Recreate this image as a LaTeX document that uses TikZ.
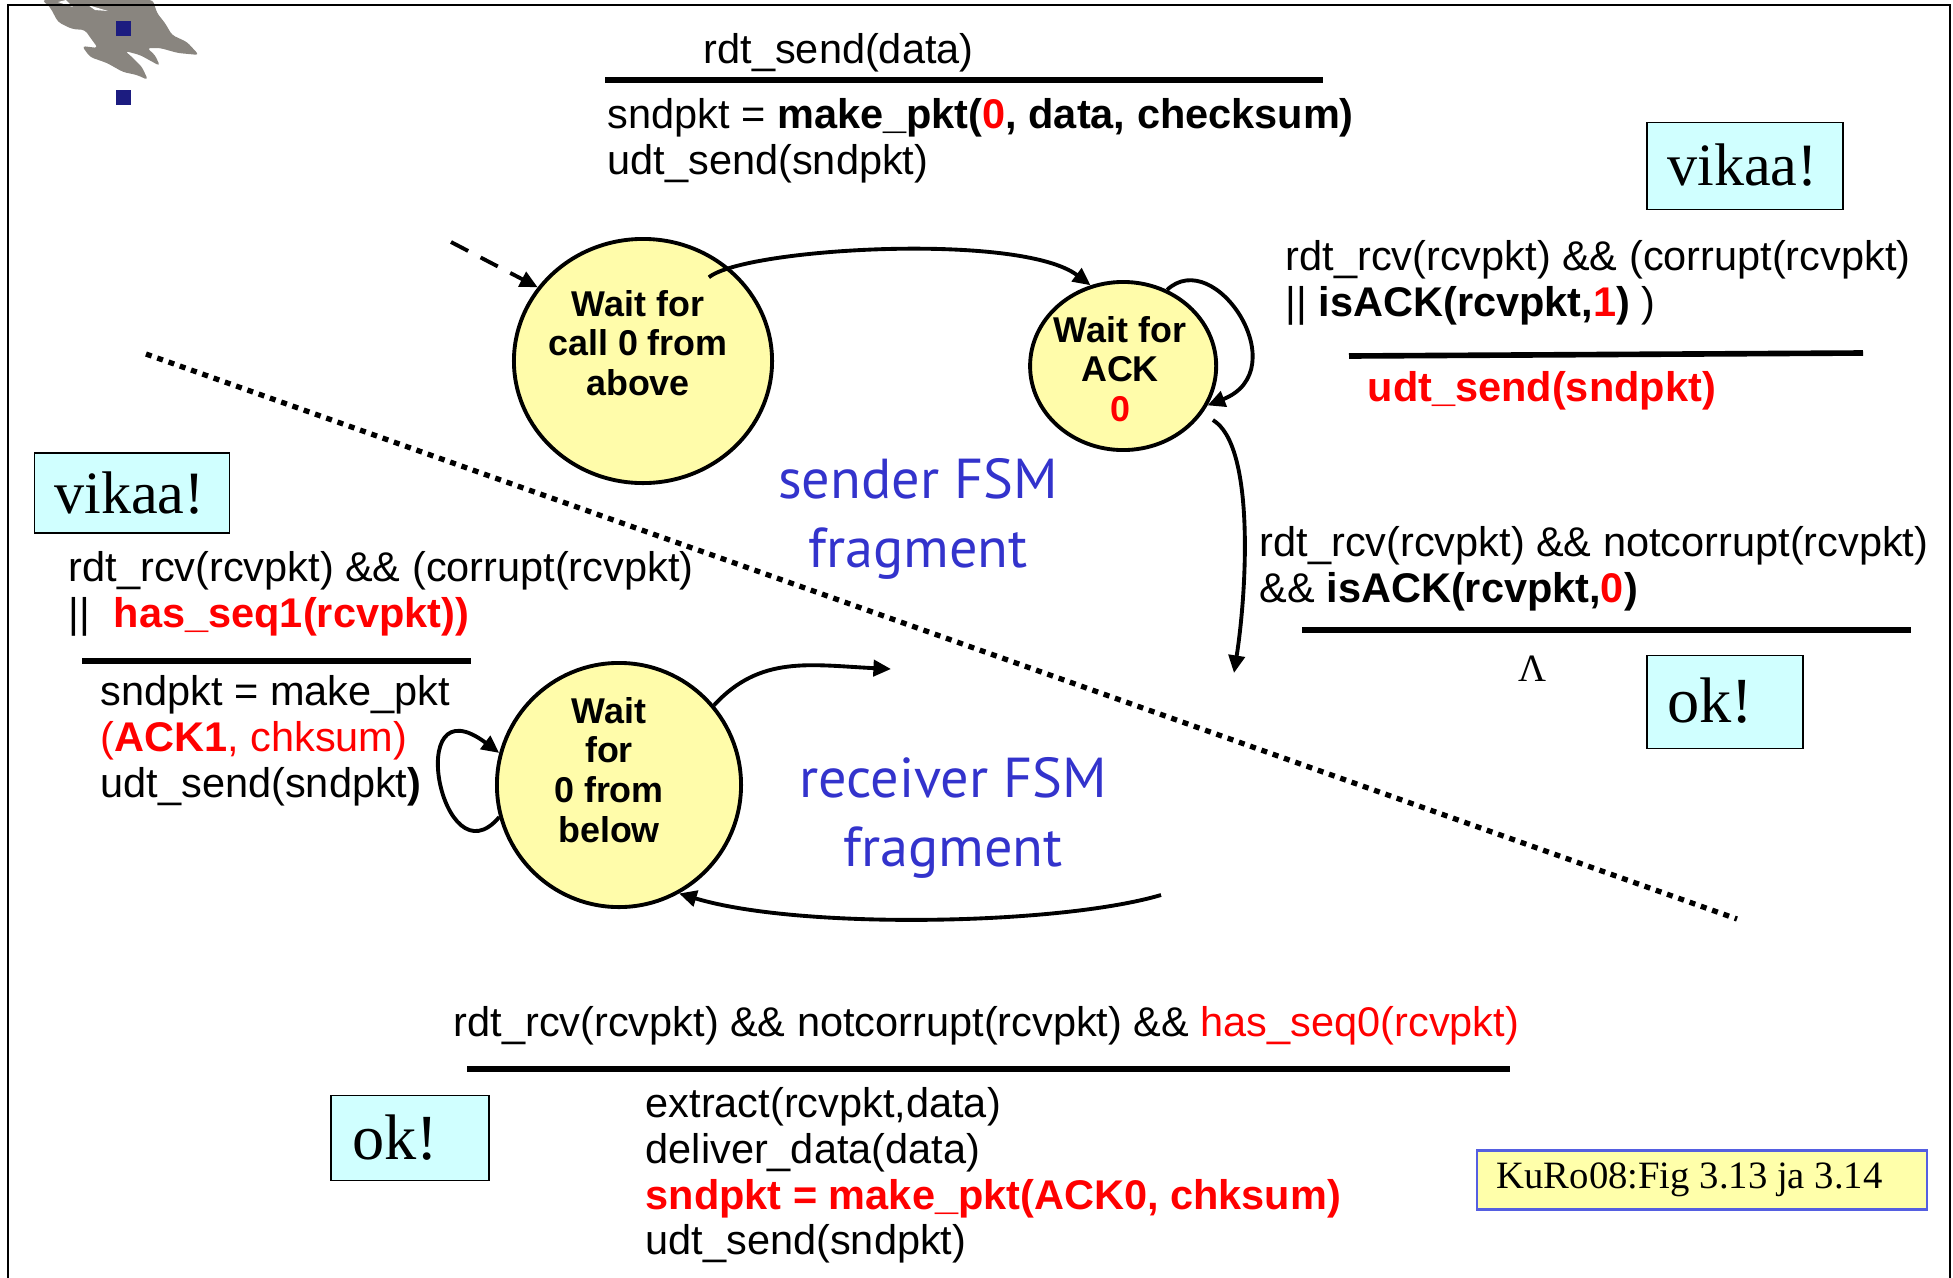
\documentclass[tikz,border=0pt]{standalone}
\usepackage{fontspec}
\setmainfont{Liberation Sans}
\newfontfamily\notefont{Liberation Serif}
\newfontfamily\fsmfont{PT Sans}
\usetikzlibrary{positioning,shapes.geometric,arrows.meta}
\definecolor{statefill}{RGB}{255,252,170}
\definecolor{notefill}{RGB}{208,255,255}
\definecolor{srcfill}{RGB}{255,255,170}
\definecolor{srcblue}{RGB}{85,95,225}
\definecolor{fsmblue}{RGB}{51,51,204}
\definecolor{logogrey}{RGB}{137,133,127}
\definecolor{bulletblue}{RGB}{28,28,128}
\tikzset{
  state/.style={ellipse, draw, line width=1.1pt, fill=statefill, inner sep=0pt},
  statetext/.style={align=center, inner sep=0pt, font=\fontsize{10.2}{11.3}\selectfont\bfseries},
  trans/.style={anchor=north west, align=left, inner sep=0pt, font=\fontsize{11.8}{13}\selectfont},
  rulebar/.style={line width=1.6pt},
  edgeline/.style={line width=1.1pt, -{Triangle[length=5pt,width=4.6pt]}},
  note/.style={draw, line width=0.5pt, fill=notefill, inner sep=0pt, font=\notefont\fontsize{17.1}{18}\selectfont},
  oknote/.style={note, font=\notefont\fontsize{18.3}{20}\selectfont},
  fsmlabel/.style={align=center, inner sep=0pt, text=fsmblue, font=\fsmfont\fontsize{16}{19.4}\selectfont},
}
\begin{document}
\begin{tikzpicture}[x=0.01cm, y=-0.01cm]
  \useasboundingbox (0,0) rectangle (1953,1278);

  % Logo and frame
  \fill[logogrey, rounded corners=1pt] (42,0) -- (50,7) -- (58,22) -- (72,29) -- (85,30) -- (92,40) -- (98,48) -- (82,46) -- (90,57) -- (107,63) -- (123,72) -- (137,75) -- (148,80) -- (142,67) -- (132,57) -- (125,51) -- (140,55) -- (160,66) -- (155,55) -- (147,48) -- (160,48) -- (178,53) -- (199,55) -- (187,42) -- (172,35) -- (165,23) -- (157,13) -- (153,0) -- cycle;
  \fill[white] (58,2) -- (73,7) -- (66,0) -- cycle;
  \fill[white] (88,5) -- (108,11) -- (95,10) -- cycle;
  \draw[line width=0.7pt] (8,1278) -- (8,5) -- (1950,5) -- (1950,1278);
  \fill[bulletblue] (116,21) rectangle (131,36);
  \fill[bulletblue] (116,90) rectangle (131,105);

  % Define nodes
  \node[state, minimum width=2.58cm, minimum height=2.44cm] (waitcall) at (643,361) {};
  \node[state, minimum width=1.86cm, minimum height=1.68cm, right=2.54cm of waitcall, yshift=-0.05cm] (waitack) {};
  \node[state, minimum width=2.44cm, minimum height=2.44cm] (waitbelow) at (619,785) {};
  \node[statetext] (waitcalltext) at (638,343) {Wait for\\call 0 from\\above};
  \node[statetext] (waitacktext) at (1120,369) {Wait for\\ACK\\\textcolor{red}{0}};
  \node[statetext] (waitbelowtext) at (609,770) {Wait\\for\\0 from\\below};

  \coordinate (initstart) at (451,242);
  \coordinate (sendend) at (1234,673);
  \coordinate (recvend) at (891,669);
  \coordinate (recvstart) at (1161,895);

  % Connect the nodes
  \draw[edgeline, dash pattern=on 5.5pt off 4pt] (initstart) -- (waitcall.145);
  \draw[edgeline] ([shift={(-12,16)}]waitcall.52) .. controls (745,248) and (1020,232) .. (waitack.112);
  \draw[edgeline] (waitack.60) .. controls (1215,245) and (1297,370) .. (waitack.-25);
  \draw[edgeline] (waitack.-22) ++(3,19) .. controls (1255,445) and (1247,590) .. (sendend);
  \draw[edgeline] (waitbelow.40) .. controls (760,655) and (810,665) .. (recvend);
  \draw[edgeline] (recvstart) .. controls (1060,925) and (800,930) .. (waitbelow.-61);
  \draw[edgeline] (waitbelow.195) .. controls (442,885) and (402,680) .. (waitbelow.165);

  % Divider
  \draw[line width=1.5pt, dash pattern=on 1.7pt off 1.7pt] (146,354) -- (1737,919);

  % Bars
  \draw[rulebar] (605,80) -- (1323,80);
  \draw[rulebar] (1349,356) -- (1863,353);
  \draw[rulebar] (1302,630) -- (1911,630);
  \draw[rulebar] (82,661) -- (471,661);
  \draw[rulebar] (467,1069) -- (1510,1069);

  % Labels
  \node[trans] (sendevent) at (703,33) {rdt\_send(data)};
  \node[trans] (sendaction) at (607,98) {sndpkt = \textbf{make\_pkt(\textcolor{red}{0}, data, checksum)}\\udt\_send(sndpkt)};
  \node[trans] (ackevent) at (1285,240) {rdt\_rcv(rcvpkt) \&\& (corrupt(rcvpkt)\\|| \textbf{isACK(rcvpkt,\textcolor{red}{1})} )};
  \node[trans, text=red, font=\fontsize{11.8}{13}\selectfont\bfseries] (ackaction) at (1367,371) {udt\_send(sndpkt)};
  \node[trans] (okevent) at (1259,526) {rdt\_rcv(rcvpkt) \&\& notcorrupt(rcvpkt)\\\&\& \textbf{isACK(rcvpkt,\textcolor{red}{0})}};
  \node[font=\notefont\fontsize{11}{13}\selectfont, inner sep=0pt] (lambda) at (1533,669) {Λ};
  \node[trans] (dupevent) at (68,551) {rdt\_rcv(rcvpkt) \&\& (corrupt(rcvpkt)\\||\hspace{0.57em}\textcolor{red}{\textbf{has\_seq1(rcvpkt))}}};
  \node[trans] (dupaction) at (100,675) {sndpkt = make\_pkt\\\textcolor{red}{(\textbf{ACK1}, chksum)}\\udt\_send(sndpkt\textbf{)}};
  \node[trans] (recvevent) at (453,1006) {rdt\_rcv(rcvpkt) \&\& notcorrupt(rcvpkt) \&\& \textcolor{red}{has\_seq0(rcvpkt)}};
  \node[trans] (recvaction) at (645,1087) {extract(rcvpkt,data)\\deliver\_data(data)\\\textcolor{red}{\textbf{sndpkt = make\_pkt(ACK0, chksum)}}\\udt\_send(sndpkt)};
  \node[fsmlabel] (senderlabel) at (918,519) {sender FSM\\fragment};
  \node[fsmlabel] (receiverlabel) at (953,818) {receiver FSM\\fragment};

  % Notes
  \node[note, minimum width=1.96cm, minimum height=0.87cm] (vikaatop) at (1745,166) {\raisebox{0.7pt}{vikaa!}\hspace{0.05cm}\mbox{}};
  \node[note, minimum width=1.95cm, minimum height=0.80cm] (vikaaleft) at (132,493) {vikaa!\hspace{0.05cm}\mbox{}};
  \node[oknote, minimum width=1.56cm, minimum height=0.93cm] (oktop) at (1725,702) {\raisebox{1pt}{ok!}\hspace{0.3cm}\mbox{}};
  \node[oknote, minimum width=1.58cm, minimum height=0.85cm] (okbottom) at (410,1138) {ok!\hspace{0.3cm}\mbox{}};
  \node[draw=srcblue, line width=0.6pt, fill=srcfill, inner sep=0pt, minimum width=4.49cm, minimum height=0.59cm, font=\notefont\fontsize{11}{13}\selectfont] (source) at (1702,1180) {\raisebox{-0.7pt}{KuRo08:Fig 3.13 ja 3.14}\hspace{0.25cm}\mbox{}};
\end{tikzpicture}
\end{document}
